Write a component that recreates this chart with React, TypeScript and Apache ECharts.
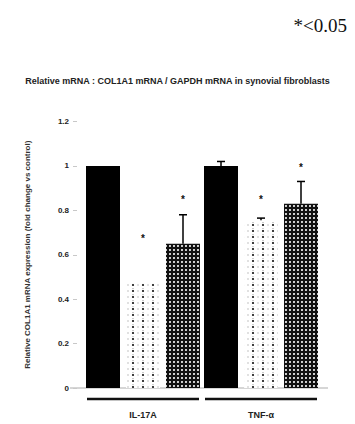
import React, { useEffect, useRef } from 'react';
import * as echarts from 'echarts';

const categories = ['IL-17A', 'TNF-α'];
const controlValues = [1.0, 1.0];
const treatAValues = [0.47, 0.755];
const treatBValues = [0.65, 0.83];
const controlErr = [0, 0.02];
const treatAErr = [0, 0.01];
const treatBErr = [0.13, 0.1];
const controlStar: (number | null)[] = [null, null];
const treatAStar: (number | null)[] = [0.68, 0.86];
const treatBStar: (number | null)[] = [0.86, 1.0];
const yMin = 0;
const yMax = 1.2;
const yInterval = 0.2;
const yTickLabels: Record<string, string> = { '0': '0', '0.2': '0.2', '0.4': '0.4', '0.6': '0.6', '0.8': '0.8', '1': '1', '1.2': '1.2' };

const chartTitle = 'Relative mRNA : COL1A1 mRNA / GAPDH mRNA in synovial fibroblasts';
const yAxisName = 'Relative COL1A1 mRNA expression (fold change vs control)';
const sigNote = '*<0.05';

const BAR_W = 34;
const GAP = 6;

function makeDotPattern() {
  const c = document.createElement('canvas');
  c.width = 10;
  c.height = 6;
  const ctx = c.getContext('2d')!;
  ctx.fillStyle = '#ffffff';
  ctx.fillRect(0, 0, 10, 6);
  ctx.fillStyle = '#111111';
  ctx.beginPath(); ctx.arc(3, 3, 1.1, 0, Math.PI * 2); ctx.fill();
  ctx.fillStyle = '#bbbbbb';
  ctx.beginPath(); ctx.arc(3, 0.5, 0.8, 0, Math.PI * 2); ctx.fill();
  ctx.beginPath(); ctx.arc(8, 3, 0.8, 0, Math.PI * 2); ctx.fill();
  return c;
}

function makeCheckPattern() {
  const c = document.createElement('canvas');
  c.width = 4;
  c.height = 4;
  const ctx = c.getContext('2d')!;
  ctx.fillStyle = '#111111';
  ctx.fillRect(0, 0, 4, 4);
  ctx.fillStyle = '#ffffff';
  ctx.beginPath(); ctx.arc(2, 2, 1.05, 0, Math.PI * 2); ctx.fill();
  return c;
}

export default function App() {
  const ref = useRef<HTMLDivElement>(null);
  useEffect(() => {
    if (!ref.current) return;
    const chart = echarts.init(ref.current, null, { renderer: 'svg' });

    const seriesVals = [controlValues, treatAValues, treatBValues];
    const seriesErr = [controlErr, treatAErr, treatBErr];
    const seriesStar = [controlStar, treatAStar, treatBStar];

    const errData: number[][] = [];
    const starData: number[][] = [];
    seriesVals.forEach((vals, s) => {
      vals.forEach((v, c) => {
        if (seriesErr[s][c] > 0) errData.push([c, s, v, seriesErr[s][c]]);
        const st = seriesStar[s][c];
        if (st != null) starData.push([c, s, st]);
      });
    });

    const option: any = {
      animation: false,
      backgroundColor: '#ffffff',
      title: [
        {
          text: sigNote,
          right: 3,
          top: 11,
          textStyle: { fontFamily: 'Liberation Serif', fontSize: 19, fontWeight: 'normal', color: '#111' },
        },
        {
          text: chartTitle,
          left: 'center',
          top: 71,
          textStyle: { fontFamily: 'Liberation Sans', fontSize: 9, fontWeight: 'bold', color: '#222' },
        },
      ],
      grid: { left: 84, right: 35, top: 121.5, bottom: 36 },
      xAxis: {
        type: 'category',
        data: categories,
        axisLine: { show: false },
        axisTick: { show: false },
        axisLabel: { margin: 22, fontSize: 9, fontWeight: 'bold', color: '#222', fontFamily: 'Liberation Sans' },
      },
      yAxis: {
        type: 'value',
        min: yMin,
        max: yMax,
        interval: yInterval,
        offset: 7,
        name: yAxisName,
        nameLocation: 'middle',
        nameGap: 46,
        nameTextStyle: { fontSize: 8, color: '#333', fontWeight: 'bold', fontFamily: 'Liberation Sans' },
        axisLine: { show: false },
        axisTick: { show: true, length: 4, lineStyle: { color: '#c8c8c8' } },
        splitLine: { show: false },
        axisLabel: {
          fontSize: 8,
          fontWeight: 'bold',
          color: '#222',
          margin: 8,
          fontFamily: 'Liberation Sans',
          formatter: (v: number) => yTickLabels[String(Math.round(v * 10) / 10)] ?? '',
        },
      },
      graphic: [
        {
          type: 'line',
          shape: { x1: 70, y1: 388, x2: 328, y2: 388 },
          style: { stroke: '#c8c8c8', lineWidth: 1.5 },
          z: 1,
        },
      ],
      series: [
        {
          type: 'bar',
          name: 'control',
          data: controlValues,
          barWidth: BAR_W,
          barGap: (GAP / BAR_W) * 100 + '%',
          itemStyle: { color: '#000000' },
          z: 3,
        },
        {
          type: 'bar',
          name: 'A',
          data: treatAValues,
          barWidth: BAR_W,
          barGap: (GAP / BAR_W) * 100 + '%',
          itemStyle: { color: { image: makeDotPattern(), repeat: 'repeat' } },
          z: 3,
        },
        {
          type: 'bar',
          name: 'B',
          data: treatBValues,
          barWidth: BAR_W,
          barGap: (GAP / BAR_W) * 100 + '%',
          itemStyle: { color: { image: makeCheckPattern(), repeat: 'repeat' } },
          z: 3,
        },
        {
          type: 'custom',
          name: 'err',
          data: errData,
          encode: { x: 0, y: 2 },
          z: 4,
          renderItem: (params: any, api: any) => {
            const c = api.value(0);
            const s = api.value(1);
            const v = api.value(2);
            const e = api.value(3);
            const off = (s - 1) * (BAR_W + GAP);
            const p0 = api.coord([c, v]);
            const p1 = api.coord([c, v + e]);
            const x = p0[0] + off;
            return {
              type: 'group',
              children: [
                { type: 'line', shape: { x1: x, y1: p0[1], x2: x, y2: p1[1] }, style: { stroke: '#000', lineWidth: 1.5 } },
                { type: 'line', shape: { x1: x - 4, y1: p1[1], x2: x + 4, y2: p1[1] }, style: { stroke: '#000', lineWidth: 1.5 } },
              ],
            };
          },
        },
        {
          type: 'custom',
          name: 'stars',
          data: starData,
          encode: { x: 0, y: 2 },
          z: 4,
          renderItem: (params: any, api: any) => {
            const c = api.value(0);
            const s = api.value(1);
            const v = api.value(2);
            const off = (s - 1) * (BAR_W + GAP);
            const p = api.coord([c, v]);
            return {
              type: 'text',
              style: {
                x: p[0] + off,
                y: p[1] + 2,
                text: '*',
                fill: '#111',
                fontSize: 10,
                fontWeight: 'bold',
                fontFamily: 'Liberation Sans',
                align: 'center',
                verticalAlign: 'middle',
              },
            };
          },
        },
        {
          type: 'custom',
          name: 'brackets',
          data: categories.map((_, i) => [i, 0]),
          encode: { x: 0, y: 1 },
          clip: false,
          z: 4,
          renderItem: (params: any, api: any) => {
            const c = api.value(0);
            const p = api.coord([c, 0]);
            const w = api.size([1, 0])[0];
            return {
              type: 'line',
              shape: { x1: p[0] - w / 2 + 3, y1: p[1] + 11, x2: p[0] + w / 2 - 3, y2: p[1] + 11 },
              style: { stroke: '#111', lineWidth: 2.5 },
            };
          },
        },
      ],
    };
    chart.setOption(option);
    return () => chart.dispose();
  }, []);
  return <div ref={ref} style={{ position: 'fixed', left: 0, top: 0, width: 355, height: 424 }} />;
}
